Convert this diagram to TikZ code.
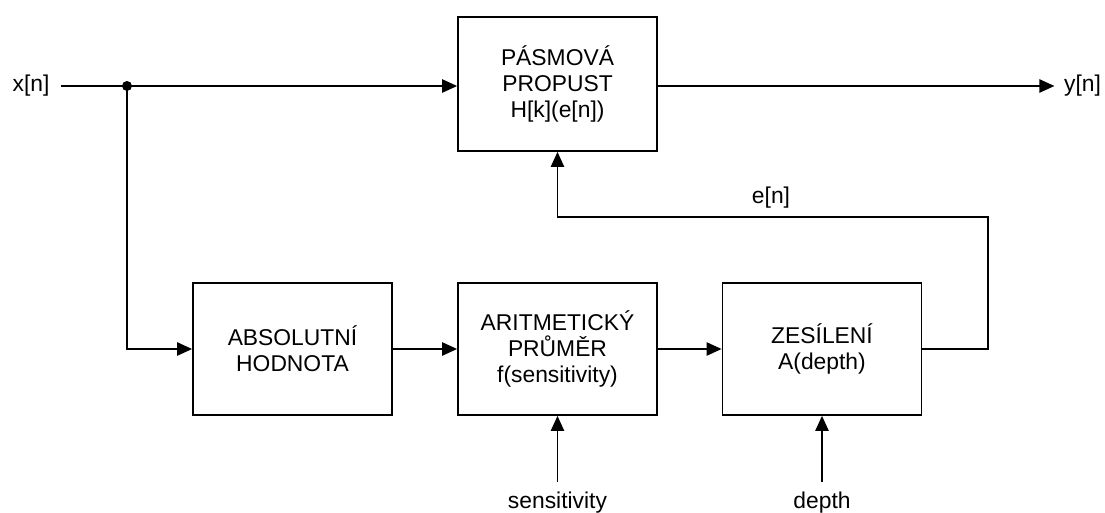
\documentclass[tikz,border=0pt]{standalone}
\usepackage{fontspec}
\setmainfont{Liberation Sans}
\usepackage{tikz}
\usetikzlibrary{positioning,arrows.meta}

\begin{document}
\begin{tikzpicture}[font=\fontsize{13}{15}\selectfont, line width=1pt,
  blok/.style={draw, align=center, minimum width=3.98cm, minimum height=2.64cm, inner sep=2pt},
  sipka/.style={-{Triangle[length=8.5pt,width=7.5pt]}}]
\useasboundingbox (0,0) rectangle (22.1,-10.24);
% bloky
\node[blok, minimum height=2.68cm] (pasmo) at (11.15,-1.68) {PÁSMOVÁ\\PROPUST\\H[k](e[n])};
\node[blok] (abs) at (5.85,-6.98) {ABSOLUTNÍ\\HODNOTA};
\node[blok] (prumer) at (11.15,-6.98) {ARITMETICKÝ\\PRŮMĚR\\f(sensitivity)};
\node[blok] (zesil) at (16.44,-6.98) {ZESÍLENÍ\\A(depth)};
% vstup a vystup
\node[inner sep=6pt] (xin) at (0.62,-1.72) {x[n]};
\node[inner sep=5pt] (yout) at (21.65,-1.72) {y[n]};
\node[anchor=north, inner sep=5pt] (sens) at (11.15,-9.64) {sensitivity};
\node[anchor=north, inner sep=5pt] (depth) at (16.44,-9.64) {depth};
\node (en) at (15.42,-3.96) {e[n]};
\coordinate (uzel) at (2.54,-1.72);
\coordinate (fbr) at (19.76,-6.98);
\coordinate (fbt) at (19.76,-4.34);
\coordinate (fbl) at (11.15,-4.34);
% spoje
\draw (xin) -- (uzel);
\draw[sipka] (uzel) -- (pasmo.west |- uzel);
\fill (uzel) circle (0.1);
\draw[sipka] (uzel) |- (abs);
\draw[sipka] (abs) -- (prumer);
\draw[sipka] (prumer) -- (zesil);
\draw[sipka] (pasmo.east |- uzel) -- (yout);
\draw[sipka] (zesil.east) -- (fbr) -- (fbt) -- (fbl) -- (pasmo.south);
\draw[sipka] (sens) -- (prumer);
\draw[sipka] (depth) -- (zesil);
\end{tikzpicture}
\end{document}
